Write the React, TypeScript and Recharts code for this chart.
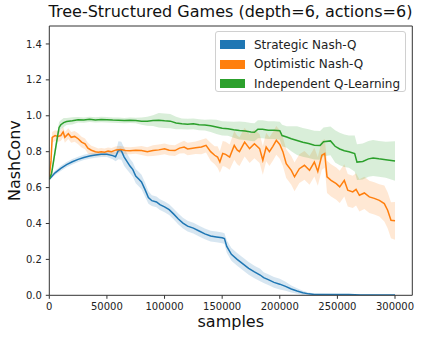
import { ComposedChart, Line, Area, XAxis, YAxis, Legend, Label, ReferenceLine } from 'recharts';

const FONT = '"DejaVu Sans", sans-serif';

// Strategic Nash-Q (blue)
const strategicX = [0, 2500, 5000, 10000, 15000, 20000, 25000, 30000, 35000, 40000, 45000, 50000, 55000, 57500, 60000, 62500, 65000, 67500, 70000, 72500, 75000, 78000, 80000, 83000, 86000, 89000, 93000, 96000, 100000, 104000, 108000, 112000, 116000, 120000, 125000, 130000, 135000, 140000, 145000, 150000, 152000, 154000, 158000, 163000, 168000, 173000, 178000, 183000, 186000, 190000, 195000, 200000, 205000, 210000, 215000, 220000, 225000, 230000, 240000, 250000, 260000, 270000, 280000, 290000, 300000];
const strategicMean = [0.646, 0.665, 0.682, 0.707, 0.728, 0.744, 0.757, 0.768, 0.776, 0.781, 0.785, 0.785, 0.778, 0.772, 0.808, 0.805, 0.77, 0.745, 0.72, 0.7, 0.664, 0.645, 0.631, 0.59, 0.545, 0.527, 0.52, 0.505, 0.493, 0.477, 0.452, 0.425, 0.402, 0.385, 0.374, 0.358, 0.342, 0.33, 0.325, 0.32, 0.316, 0.272, 0.228, 0.2, 0.175, 0.15, 0.13, 0.113, 0.098, 0.087, 0.072, 0.062, 0.05, 0.035, 0.024, 0.014, 0.008, 0.005, 0.005, 0.004, 0.004, 0.002, 0.002, 0.001, 0.001];
const strategicSpread = [0.005, 0.01, 0.012, 0.014, 0.015, 0.015, 0.015, 0.015, 0.015, 0.015, 0.015, 0.015, 0.02, 0.025, 0.05, 0.05, 0.05, 0.045, 0.04, 0.04, 0.04, 0.04, 0.04, 0.04, 0.035, 0.03, 0.03, 0.03, 0.03, 0.03, 0.03, 0.03, 0.03, 0.03, 0.03, 0.03, 0.03, 0.03, 0.03, 0.03, 0.03, 0.035, 0.035, 0.035, 0.035, 0.035, 0.035, 0.035, 0.03, 0.03, 0.03, 0.03, 0.025, 0.02, 0.015, 0.012, 0.008, 0.005, 0.004, 0.003, 0.003, 0.002, 0.002, 0.001, 0.001];

// Optimistic Nash-Q (orange)
const optimisticX = [0, 1500, 2500, 5000, 7500, 10000, 12000, 13500, 16500, 19000, 22000, 25000, 28000, 31000, 33500, 36500, 40000, 42500, 45000, 48000, 51000, 54000, 58000, 62000, 66000, 70000, 75000, 80000, 85000, 90000, 95000, 100000, 104000, 109000, 113000, 117000, 120000, 123000, 127000, 132000, 136000, 140000, 143500, 146000, 148000, 150500, 153000, 156500, 160500, 163000, 165000, 169500, 173800, 178000, 182500, 185300, 188200, 191000, 194000, 197000, 200000, 202700, 205600, 210000, 212800, 217000, 221400, 225800, 230000, 233000, 236500, 239000, 241000, 244500, 249000, 252000, 256000, 259000, 263300, 266200, 269100, 273400, 277700, 282000, 286400, 290700, 293600, 296500, 300000];
const optimisticMean = [0.66, 0.75, 0.88, 0.89, 0.885, 0.89, 0.91, 0.88, 0.9, 0.88, 0.885, 0.872, 0.853, 0.844, 0.82, 0.808, 0.8, 0.797, 0.8, 0.797, 0.803, 0.8, 0.81, 0.812, 0.806, 0.805, 0.808, 0.806, 0.8, 0.806, 0.81, 0.816, 0.808, 0.806, 0.82, 0.826, 0.815, 0.818, 0.822, 0.826, 0.835, 0.8, 0.78, 0.77, 0.742, 0.79, 0.785, 0.77, 0.835, 0.81, 0.8, 0.853, 0.817, 0.844, 0.817, 0.752, 0.826, 0.8, 0.83, 0.863, 0.84, 0.8, 0.733, 0.696, 0.66, 0.705, 0.724, 0.696, 0.742, 0.69, 0.78, 0.79, 0.66, 0.64, 0.622, 0.604, 0.64, 0.585, 0.576, 0.59, 0.557, 0.57, 0.548, 0.54, 0.529, 0.511, 0.474, 0.418, 0.415];
const optimisticSpread = [0.01, 0.03, 0.03, 0.03, 0.03, 0.03, 0.03, 0.03, 0.03, 0.03, 0.03, 0.03, 0.03, 0.03, 0.03, 0.025, 0.025, 0.02, 0.02, 0.02, 0.02, 0.02, 0.02, 0.02, 0.02, 0.02, 0.02, 0.025, 0.025, 0.03, 0.03, 0.03, 0.03, 0.03, 0.03, 0.035, 0.035, 0.035, 0.035, 0.04, 0.04, 0.05, 0.05, 0.06, 0.06, 0.07, 0.07, 0.07, 0.08, 0.08, 0.08, 0.08, 0.08, 0.08, 0.08, 0.08, 0.08, 0.08, 0.08, 0.08, 0.08, 0.08, 0.08, 0.08, 0.08, 0.08, 0.08, 0.08, 0.08, 0.08, 0.08, 0.08, 0.09, 0.09, 0.09, 0.09, 0.09, 0.09, 0.09, 0.09, 0.09, 0.09, 0.09, 0.09, 0.09, 0.1, 0.1, 0.1, 0.105];

// Independent Q-Learning (green)
const independentX = [0, 2000, 4000, 5000, 7000, 8500, 10000, 12500, 15000, 20000, 25000, 30000, 35000, 40000, 45000, 50000, 55000, 60000, 65000, 70000, 75000, 80000, 85000, 90000, 95000, 100000, 105000, 110000, 115000, 120000, 125000, 130000, 135000, 140000, 145000, 150000, 155000, 160000, 165000, 170000, 175000, 178000, 181000, 185000, 190000, 195000, 200000, 202000, 206000, 210000, 215000, 220000, 225000, 230000, 235000, 238000, 244000, 248000, 252000, 256000, 260000, 265000, 267000, 272000, 277000, 281000, 286000, 292000, 300000];
const independentMean = [0.646, 0.68, 0.76, 0.8, 0.88, 0.935, 0.95, 0.962, 0.968, 0.972, 0.978, 0.976, 0.98, 0.977, 0.979, 0.978, 0.976, 0.975, 0.973, 0.975, 0.974, 0.97, 0.97, 0.973, 0.975, 0.972, 0.97, 0.96, 0.955, 0.953, 0.955, 0.95, 0.948, 0.944, 0.938, 0.93, 0.928, 0.922, 0.918, 0.915, 0.91, 0.908, 0.925, 0.925, 0.92, 0.92, 0.917, 0.89, 0.882, 0.872, 0.862, 0.852, 0.845, 0.836, 0.835, 0.855, 0.86, 0.83, 0.815, 0.805, 0.8, 0.79, 0.742, 0.745, 0.76, 0.765, 0.76, 0.755, 0.748];
const independentSpread = [0.01, 0.02, 0.03, 0.03, 0.03, 0.03, 0.025, 0.025, 0.02, 0.02, 0.015, 0.015, 0.015, 0.015, 0.015, 0.015, 0.015, 0.015, 0.015, 0.015, 0.015, 0.02, 0.025, 0.03, 0.04, 0.04, 0.04, 0.035, 0.03, 0.03, 0.03, 0.03, 0.03, 0.035, 0.04, 0.04, 0.04, 0.045, 0.05, 0.05, 0.05, 0.05, 0.05, 0.05, 0.05, 0.05, 0.05, 0.06, 0.06, 0.07, 0.08, 0.08, 0.08, 0.08, 0.08, 0.08, 0.08, 0.09, 0.09, 0.09, 0.09, 0.1, 0.1, 0.1, 0.1, 0.1, 0.1, 0.1, 0.11];

const xTicks = [0, 50000, 100000, 150000, 200000, 250000, 300000];
const yTicks = [0, 0.2, 0.4, 0.6, 0.8, 1.0, 1.2, 1.4];
const xMax = 315000;
const yMax = 1.5;

const seriesNames = ['Strategic Nash-Q', 'Optimistic Nash-Q', 'Independent Q-Learning'];
const seriesColors = ['#1f77b4', '#ff7f0e', '#2ca02c'];

function buildRows(xs: number[], mean: number[], spread: number[]) {
  return xs.map((x, i) => ({ x, mean: mean[i], band: [mean[i] - spread[i], mean[i] + spread[i]] }));
}

const strategicRows = buildRows(strategicX, strategicMean, strategicSpread);
const optimisticRows = buildRows(optimisticX, optimisticMean, optimisticSpread);
const independentRows = buildRows(independentX, independentMean, independentSpread);
const allRows = [strategicRows, optimisticRows, independentRows];

function LegendBox() {
  return (
    <div
      style={{
        width: 189,
        height: 56,
        border: '1px solid #d0d0d0',
        borderRadius: 3,
        background: 'rgba(255,255,255,0.8)',
        fontFamily: FONT,
        fontSize: 12,
        color: '#222',
        paddingTop: 3,
        boxSizing: 'content-box',
      }}
    >
      {seriesNames.map((name, i) => (
        <div key={name} style={{ display: 'flex', alignItems: 'center', height: 19.5 }}>
          <div style={{ width: 25, height: 9, marginLeft: 4, marginRight: 9, background: seriesColors[i] }} />
          <span>{name}</span>
        </div>
      ))}
    </div>
  );
}

export default function App() {
  return (
    <div style={{ position: 'absolute', left: 0, top: 0, width: 423, height: 339, background: '#fff' }}>
      <div
        style={{
          position: 'absolute',
          left: 0,
          width: 461,
          top: 1,
          textAlign: 'center',
          fontFamily: FONT,
          fontSize: 16,
          color: '#111',
          lineHeight: '22px',
        }}
      >
        Tree-Structured Games (depth=6, actions=6)
      </div>
      <ComposedChart width={423} height={339} margin={{ top: 26, right: 10.7, left: 0, bottom: 0 }}>
        <XAxis
          dataKey="x"
          type="number"
          domain={[0, xMax]}
          ticks={xTicks}
          allowDataOverflow
          height={43.7}
          stroke="#333"
          tickSize={3.5}
          tickMargin={4}
          tick={{ fontFamily: FONT, fontSize: 10, fill: '#222' }}
        >
          <Label
            content={({ viewBox }: any) => (
              <text
                x={viewBox.x + viewBox.width / 2}
                y={327}
                textAnchor="middle"
                fontFamily={FONT}
                fontSize={16}
                fill="#111"
              >
                samples
              </text>
            )}
          />
        </XAxis>
        <YAxis
          type="number"
          domain={[0, yMax]}
          ticks={yTicks}
          allowDataOverflow
          width={49.3}
          stroke="#333"
          tickSize={3.5}
          tickMargin={4}
          tickFormatter={(v: number) => v.toFixed(1)}
          tick={{ fontFamily: FONT, fontSize: 10, fill: '#222' }}
        >
          <Label
            content={({ viewBox }: any) => {
              const cy = viewBox.y + viewBox.height / 2;
              return (
                <text
                  x={20}
                  y={cy}
                  transform={`rotate(-90, 20, ${cy})`}
                  textAnchor="middle"
                  fontFamily={FONT}
                  fontSize={16}
                  fill="#111"
                >
                  NashConv
                </text>
              );
            }}
          />
        </YAxis>
        {allRows.map((rows, i) => [
          <Area
            key={`band-${i}`}
            data={rows}
            dataKey="band"
            type="linear"
            stroke="none"
            fill={seriesColors[i]}
            fillOpacity={0.18}
            isAnimationActive={false}
            legendType="none"
          />,
          <Line
            key={`line-${i}`}
            data={rows}
            dataKey="mean"
            name={seriesNames[i]}
            type="linear"
            stroke={seriesColors[i]}
            strokeWidth={1.5}
            dot={false}
            activeDot={false}
            isAnimationActive={false}
          />,
        ])}
        <ReferenceLine y={yMax} stroke="#333" strokeWidth={1} ifOverflow="extendDomain" />
        <ReferenceLine x={xMax} stroke="#333" strokeWidth={1} ifOverflow="extendDomain" />
        <Legend
          layout="horizontal"
          verticalAlign="middle"
          align="center"
          content={() => <LegendBox />}
          wrapperStyle={{ position: 'absolute', left: 215, top: 31, width: 'auto' }}
        />
      </ComposedChart>
    </div>
  );
}
